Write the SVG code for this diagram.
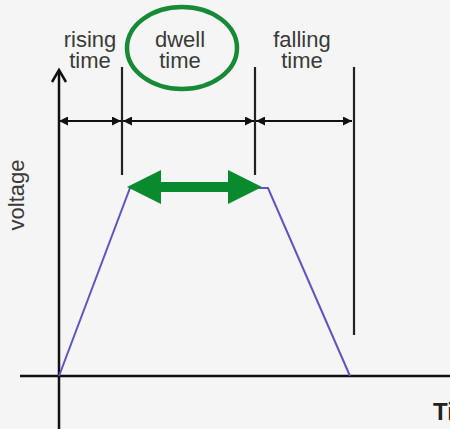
<svg xmlns="http://www.w3.org/2000/svg" width="450" height="429" viewBox="0 0 450 429">
<style>
.ax{stroke:#111;stroke-width:2.5;fill:none}
.ln{stroke:#222;stroke-width:2.2;fill:none}
.dim{stroke:#111;stroke-width:2;fill:none;marker-start:url(#ah);marker-end:url(#ah)}
.lbl{font-family:"Liberation Sans",Arial,sans-serif;font-size:22px;fill:#3a3a3a;text-anchor:middle}
</style>
<defs>
<marker id="ah" viewBox="0 0 10 10" refX="10" refY="5" markerWidth="9" markerHeight="9" orient="auto-start-reverse" markerUnits="userSpaceOnUse">
<path d="M0,0 L10,5 L0,10 z" fill="#111"/>
</marker>
</defs>
<rect width="450" height="429" fill="#f5f5f5"/>
<g id="axes">
<line class="ax" x1="59" y1="72" x2="59" y2="429"/>
<path class="ax" d="M52,82 L59,70 L66,82"/>
<line class="ax" x1="20" y1="376" x2="450" y2="376"/>
</g>
<g id="markers">
<line class="ln" x1="122" y1="67" x2="122" y2="175"/>
<line class="ln" x1="255" y1="67" x2="255" y2="175"/>
<line class="ln" x1="354" y1="67" x2="354" y2="335"/>
</g>
<g id="connectors">
<line class="dim" x1="59" y1="121" x2="121" y2="121"/>
<line class="dim" x1="123" y1="121" x2="254" y2="121"/>
<line class="dim" x1="256" y1="121" x2="352" y2="121"/>
</g>
<g id="waveform">
<polyline points="59,376 130,188 268,188 350,376" fill="none" stroke="#5b55c8" stroke-width="2"/>
</g>
<g id="dwell-arrow">
<polygon points="127,187 161,170 161,182 228,182 228,170 262,187 228,204 228,192 161,192 161,204" fill="#0a8a2e"/>
</g>
<g id="labels">
<text class="lbl" x="90" y="47">rising</text>
<text class="lbl" x="90" y="68">time</text>
<text class="lbl" x="180" y="47">dwell</text>
<text class="lbl" x="180" y="68">time</text>
<text class="lbl" x="302" y="47">falling</text>
<text class="lbl" x="302" y="68">time</text>
<text class="lbl" transform="translate(24,195) rotate(-90)">voltage</text>
<text x="433" y="420" font-family="Liberation Sans,Arial,sans-serif" font-size="24" fill="#222" font-weight="bold">Ti</text>
</g>
<g id="highlight">
<ellipse cx="182" cy="48" rx="55" ry="41" fill="none" stroke="#178a35" stroke-width="4.5"/>
</g>
</svg>
